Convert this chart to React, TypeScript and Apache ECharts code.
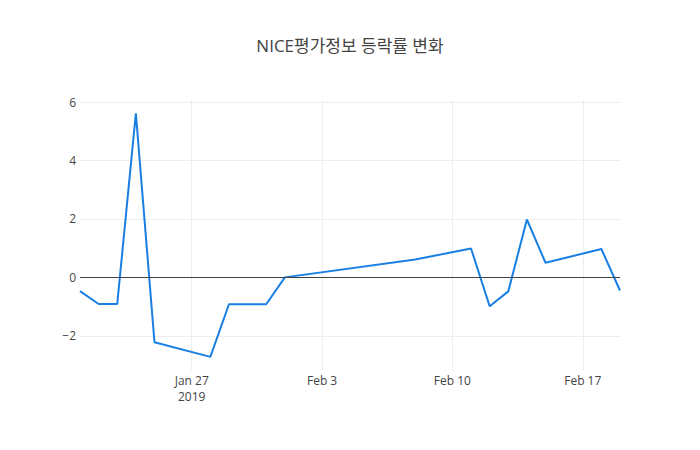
import { useEffect, useRef } from "react";
import * as echarts from "echarts";

// 거래일
const dates = [
  "2019-01-21", "2019-01-22", "2019-01-23", "2019-01-24", "2019-01-25",
  "2019-01-28", "2019-01-29", "2019-01-31", "2019-02-01", "2019-02-08",
  "2019-02-11", "2019-02-12", "2019-02-13", "2019-02-14", "2019-02-15",
  "2019-02-18", "2019-02-19",
];

// 등락률 (%)
const changes = [
  -0.47, -0.91, -0.91, 5.61, -2.22,
  -2.72, -0.92, -0.92, 0.0, 0.61,
  0.99, -0.99, -0.48, 1.98, 0.5,
  0.97, -0.45,
];

const xTickDates = ["2019-01-27", "2019-02-03", "2019-02-10", "2019-02-17"];
const xTickLabels = ["Jan 27\n2019", "Feb 3", "Feb 10", "Feb 17"];
const yTicks = [-2, 0, 2, 4, 6];

// 날짜 -> 일 단위 숫자 (value 축에서 사용)
const toDay = (s: string) => {
  const [y, m, d] = s.split("-").map(Number);
  return Date.UTC(y, m - 1, d) / 86400000;
};

function App() {
  const chartRef = useRef<HTMLDivElement>(null);

  useEffect(() => {
    document.body.style.margin = "0";
    if (!chartRef.current) return;
    const chart = echarts.init(chartRef.current, undefined, { renderer: "svg" });

    const xTickValues = xTickDates.map(toDay);
    const font = '"Open Sans", "Noto Sans CJK KR", sans-serif';

    chart.setOption({
      animation: false,
      backgroundColor: "#fff",
      textStyle: { fontFamily: font },
      title: {
        text: "NICE평가정보 등락률 변화",
        left: "center",
        top: 32,
        textStyle: {
          color: "#444",
          fontSize: 17,
          fontWeight: "normal",
          fontFamily: font,
        },
      },
      grid: {
        left: 80,
        right: 80,
        top: 100,
        bottom: 80,
        containLabel: false,
      },
      xAxis: {
        type: "value",
        min: toDay(dates[0]),
        max: toDay(dates[dates.length - 1]),
        axisLine: { show: false },
        axisTick: { show: false, customValues: xTickValues },
        splitLine: { show: true, lineStyle: { color: "#eee", width: 1 } },
        axisLabel: {
          customValues: xTickValues,
          color: "#444",
          fontSize: 12,
          margin: 2,
          lineHeight: 16,
          fontFamily: font,
          formatter: (v: number) => {
            const i = xTickValues.indexOf(v);
            return i >= 0 ? xTickLabels[i] : "";
          },
        },
      },
      yAxis: {
        type: "value",
        min: -3.17,
        max: 6.07,
        axisLine: { show: false },
        axisTick: { show: false, customValues: yTicks },
        splitLine: { show: true, lineStyle: { color: "#eee", width: 1 } },
        axisLabel: {
          customValues: yTicks,
          color: "#444",
          fontSize: 12,
          margin: 4,
          fontFamily: font,
          formatter: (v: number) => (v < 0 ? "\u2212" + Math.abs(v) : String(v)),
        },
      },
      series: [
        {
          type: "line",
          data: dates.map((d, i) => [toDay(d), changes[i]]),
          showSymbol: false,
          lineStyle: { color: "#1a7fe3", width: 2 },
          itemStyle: { color: "#1a7fe3" },
          markLine: {
            silent: true,
            symbol: "none",
            label: { show: false },
            lineStyle: { color: "#444", width: 1, type: "solid" },
            data: [{ yAxis: 0 }],
          },
          z: 3,
        },
      ],
    });

    return () => {
      chart.dispose();
    };
  }, []);

  return <div ref={chartRef} style={{ width: 700, height: 450 }} />;
}

export default App;
